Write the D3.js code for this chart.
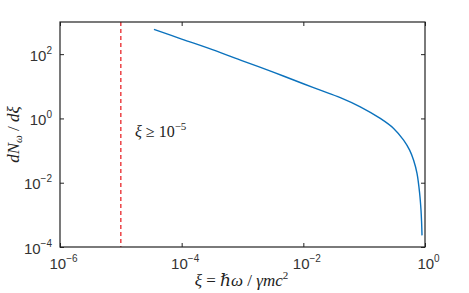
<!DOCTYPE html>
<html lang="en">
<head>
<meta charset="UTF-8">
<title>Photon spectrum</title>
<script src="https://d3js.org/d3.v7.min.js"></script>
<style>
    body { margin: 0; background: #fff; }
    svg { font-family: "Liberation Serif", "DejaVu Serif", serif; }
    .tick text { fill: #333; }
    .axis path { display: none; }
    .axis line { stroke: #222; stroke-width: 1; }
</style>
</head>
<body>
<div id="chart"></div>
<script>
// spectrum
const xi = [3.5e-5, 1e-4, 3.2e-4, 1e-3, 3.2e-3, 1e-2, 0.019, 0.0405, 0.0863, 0.184, 0.305, 0.445, 0.559, 0.65, 0.739, 0.816, 0.86, 0.878, 0.893];
const dN = [593, 295, 138, 62, 27.5, 12.0, 7.6, 4.45, 2.3, 1.0, 0.489, 0.211, 0.103, 0.05, 0.0194, 0.0047, 0.00139, 0.00063, 0.00023];

const xTicks = [1e-6, 1e-4, 1e-2, 1];
const xTickExp = ["−6", "−4", "−2", "0"];
const yTicks = [1e-4, 1e-2, 1, 1e2];
const yTickExp = ["−4", "−2", "0", "2"];
const cutoff = 1e-5;

const W = 469, H = 293;
const m = { top: 22, right: 44, bottom: 46, left: 60 };
const w = W - m.left - m.right, h = H - m.top - m.bottom;

const svg = d3.select("#chart").append("svg")
    .attr("width", W).attr("height", H);
const g = svg.append("g").attr("transform", `translate(${m.left},${m.top})`);

const x = d3.scaleLog().domain([1e-6, 1]).range([0, w]);
const y = d3.scaleLog().domain([1e-4, 1e3]).range([h, 0]);

function powLabel(sel, exps) {
    sel.each(function(d, i) {
        const t = d3.select(this).text("");
        t.append("tspan").text("10");
        t.append("tspan").attr("dy", -7).attr("font-size", 10).text(exps[i]);
    });
}

const xAxis = g.append("g").attr("class", "axis")
    .attr("transform", `translate(0,${h})`)
    .call(d3.axisBottom(x).tickValues(xTicks).tickSize(-4).tickPadding(11));
xAxis.selectAll("text").attr("font-size", 15).attr("dx", 3).call(powLabel, xTickExp);

g.append("g").attr("class", "axis")
    .call(d3.axisTop(x).tickValues(xTicks).tickSize(-4).tickFormat(""));

const yAxis = g.append("g").attr("class", "axis")
    .call(d3.axisLeft(y).tickValues(yTicks).tickSize(-4).tickPadding(8));
yAxis.selectAll("text").attr("font-size", 15).attr("dy", "0.4em").call(powLabel, yTickExp);

g.append("g").attr("class", "axis")
    .attr("transform", `translate(${w},0)`)
    .call(d3.axisRight(y).tickValues(yTicks).tickSize(-4).tickFormat(""));

// cutoff line
g.append("line")
    .attr("x1", x(cutoff)).attr("x2", x(cutoff))
    .attr("y1", 0).attr("y2", h)
    .attr("stroke", "#e8262a").attr("stroke-width", 1.3)
    .attr("stroke-dasharray", "4,3");

// spectrum
const pts = xi.map((v, i) => [v, dN[i]]);
g.append("path")
    .datum(pts)
    .attr("fill", "none")
    .attr("stroke", "#0b72bd")
    .attr("stroke-width", 1.4)
    .attr("d", d3.line().x(d => x(d[0])).y(d => y(d[1])).curve(d3.curveCatmullRom.alpha(0.5)));

// frame
g.append("rect").attr("width", w).attr("height", h)
    .attr("fill", "none").attr("stroke", "#222").attr("stroke-width", 1.2);

// annotation
const ann = g.append("text").attr("x", 75).attr("y", 115).attr("font-size", 16).attr("fill", "#222");
ann.append("tspan").attr("font-style", "italic").text("ξ");
ann.append("tspan").text(" ≥ 10");
ann.append("tspan").attr("dy", -7).attr("font-size", 11).text("−5");

// x label
const xl = svg.append("text").attr("x", m.left + w / 2 - 1).attr("y", 286)
    .attr("text-anchor", "middle").attr("font-size", 17).attr("fill", "#222");
xl.append("tspan").attr("font-style", "italic").text("ξ");
xl.append("tspan").text(" = ");
xl.append("tspan").attr("font-style", "italic").text("ℏω");
xl.append("tspan").text(" / ");
xl.append("tspan").attr("font-style", "italic").text("γmc");
xl.append("tspan").attr("dy", -7).attr("font-size", 11).text("2");

// y label
const yl = svg.append("text")
    .attr("transform", `translate(19,${m.top + h / 2}) rotate(-90)`)
    .attr("text-anchor", "middle").attr("font-size", 17).attr("fill", "#222");
yl.append("tspan").attr("font-style", "italic").text("dN");
yl.append("tspan").attr("font-style", "italic").attr("font-size", 11).attr("dy", 3).text("ω");
yl.append("tspan").attr("dy", -3).text(" / ");
yl.append("tspan").attr("font-style", "italic").text("dξ");
</script>
</body>
</html>
